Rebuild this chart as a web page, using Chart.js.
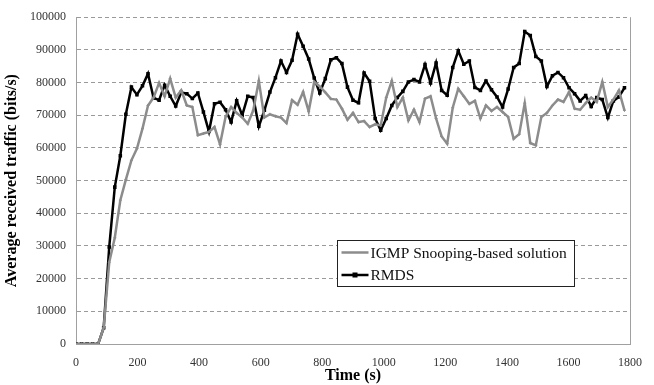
<!DOCTYPE html>
<html>
<head>
<meta charset="utf-8">
<script src="https://cdn.jsdelivr.net/npm/chart.js@4/dist/chart.umd.min.js"></script>
<style>
  html, body { margin: 0; padding: 0; background: #fff; }
  #wrap { width: 654px; height: 385px; }
</style>
</head>
<body>
<div id="wrap"><canvas id="myChart" width="654" height="385"></canvas></div>
<script>
"use strict";

// sample times (s)
const times = [
  0, 18, 36, 54, 72, 90, 108, 126, 144, 162,
  180, 198, 216, 234, 252, 270, 288, 306, 324, 342,
  360, 378, 396, 414, 432, 450, 468, 486, 504, 522,
  540, 558, 576, 594, 612, 630, 648, 666, 684, 702,
  720, 738, 756, 774, 792, 810, 828, 846, 864, 882,
  900, 918, 936, 954, 972, 990, 1008, 1026, 1044, 1062,
  1080, 1098, 1116, 1134, 1152, 1170, 1188, 1206, 1224, 1242,
  1260, 1278, 1296, 1314, 1332, 1350, 1368, 1386, 1404, 1422,
  1440, 1458, 1476, 1494, 1512, 1530, 1548, 1566, 1584, 1602,
  1620, 1638, 1656, 1674, 1692, 1710, 1728, 1746, 1764, 1782
];

// IGMP Snooping-based solution (bits/s)
const igmpValues = [
  0, 0, 0, 0, 0, 5000, 25000, 32500, 44000, 50300,
  56200, 59800, 65900, 73000, 75400, 79900, 75800, 81200, 75400, 77600,
  73000, 72500, 63900, 64400, 64900, 66400, 61100, 69500, 72500, 70700,
  69300, 67400, 71500, 80500, 69300, 70300, 69700, 69300, 67600, 74600,
  73200, 77100, 71200, 80200, 78800, 77000, 75000, 74800, 72000, 68600,
  70700, 67900, 68200, 66400, 67200, 66900, 75400, 80500, 72500, 75400,
  68400, 71700, 67900, 75100, 75800, 69000, 63500, 61300, 72300, 78100,
  75800, 73500, 74400, 69000, 73000, 71300, 72500, 71000, 69500, 62800,
  64200, 73700, 61500, 60800, 69500, 70700, 73000, 74800, 74100, 77100,
  72000, 71700, 73700, 75400, 74100, 80200, 72500, 74800, 77600, 71500
];

// RMDS (bits/s)
const rmdsValues = [
  0, 0, 0, 0, 0, 5000, 29700, 48000, 57600, 70300,
  78600, 76300, 79000, 82700, 75300, 74600, 79200, 75800, 72800, 77000,
  76600, 75100, 76800, 71000, 65000, 73500, 74000, 71700, 67900, 74400,
  70000, 75800, 75400, 66600, 71500, 77100, 81500, 86600, 83100, 86800,
  94800, 91100, 87200, 81400, 76800, 81200, 87000, 87600, 85800, 78600,
  74600, 73800, 82900, 80400, 69000, 65400, 69000, 73000, 75400, 77300,
  80200, 80900, 80200, 85500, 79900, 86000, 77600, 76100, 84600, 89700,
  85600, 86600, 78500, 77600, 80500, 77800, 75600, 72500, 78000, 84600,
  85800, 95600, 94400, 88000, 86600, 78800, 82100, 83100, 81500, 78400,
  76600, 74400, 76000, 72700, 75400, 74800, 69300, 74400, 75600, 78400
];

const seriesNames = ['IGMP Snooping-based solution', 'RMDS'];
const xTicks = { min: 0, max: 1800, step: 200 };
const yTicks = { min: 0, max: 100000, step: 10000 };

const SERIF = '"Liberation Serif", "Times New Roman", serif';
const GRAY = '#8c8c8c';

function toPoints(vals) {
  return vals.map((v, i) => ({ x: times[i], y: v }));
}

// legend box inside the plot + right border of plot area
const boxPlugin = {
  id: 'boxPlugin',
  afterDraw(chart) {
    const ctx = chart.ctx;
    const a = chart.chartArea;
    ctx.save();
    // right border
    ctx.strokeStyle = '#a0a0a0';
    ctx.lineWidth = 1;
    ctx.beginPath();
    ctx.moveTo(Math.round(a.right) + 0.5, a.top);
    ctx.lineTo(Math.round(a.right) + 0.5, a.bottom);
    ctx.stroke();

    // legend
    const lx = 337.5, ly = 240.5, lw = 237, lh = 46;
    ctx.fillStyle = '#fff';
    ctx.fillRect(lx, ly, lw, lh);
    ctx.strokeStyle = '#222';
    ctx.lineWidth = 1;
    ctx.strokeRect(lx, ly, lw, lh);
    ctx.font = '15.5px ' + SERIF;
    ctx.textBaseline = 'middle';
    chart.data.datasets.forEach((ds, i) => {
      const y = ly + 12 + i * 22.5;
      ctx.strokeStyle = ds.borderColor;
      ctx.lineWidth = ds.borderWidth;
      ctx.beginPath();
      ctx.moveTo(lx + 4, y);
      ctx.lineTo(lx + 31, y);
      ctx.stroke();
      ctx.fillStyle = ds.borderColor;
      if (i === 1) {
        ctx.fillRect(lx + 15, y - 2.5, 5, 5);
      }
      ctx.fillStyle = '#111';
      ctx.fillText(ds.label, lx + 33, y + 1);
    });
    ctx.restore();
  }
};

const config = {
  type: 'line',
  data: {
    datasets: [
      {
        label: seriesNames[0],
        data: toPoints(igmpValues),
        borderColor: GRAY,
        backgroundColor: GRAY,
        borderWidth: 2.5,
        pointStyle: 'cross',
        pointRadius: 1.5,
        pointBorderWidth: 1,
        tension: 0
      },
      {
        label: seriesNames[1],
        data: toPoints(rmdsValues),
        borderColor: '#000',
        backgroundColor: '#000',
        borderWidth: 2.5,
        pointStyle: 'rect',
        pointRadius: 2.5,
        pointBorderWidth: 0,
        tension: 0
      }
    ]
  },
  plugins: [boxPlugin],
  options: {
    responsive: false,
    animation: false,
    layout: { padding: { left: 0, right: 16, top: 17, bottom: 0 } },
    plugins: {
      legend: { display: false },
      tooltip: { enabled: false }
    },
    scales: {
      x: {
        type: 'linear',
        min: xTicks.min,
        max: xTicks.max,
        afterFit(scale) { scale.height = 41; },
        grid: { display: false, drawTicks: false },
        border: { color: '#a0a0a0', width: 1 },
        ticks: {
          stepSize: xTicks.step,
          padding: 12,
          color: '#333',
          font: { family: SERIF, size: 12 },
          callback: (v) => String(v)
        },
        title: {
          display: true,
          text: 'Time (s)',
          color: '#000',
          font: { family: SERIF, size: 16, weight: 'bold' },
          padding: { top: -4, bottom: 0 }
        }
      },
      y: {
        min: yTicks.min,
        max: yTicks.max,
        afterFit(scale) { scale.width = 76; },
        grid: {
          color: '#9a9a9a',
          drawTicks: false
        },
        border: { color: '#a0a0a0', width: 1, dash: [4, 3] },
        ticks: {
          stepSize: yTicks.step,
          padding: 10,
          color: '#333',
          font: { family: SERIF, size: 12 },
          callback: (v) => String(v)
        },
        title: {
          display: true,
          text: 'Average received traffic (bits/s)',
          color: '#000',
          font: { family: SERIF, size: 16, weight: 'bold' },
          padding: { top: 2, bottom: 0 }
        }
      }
    }
  }
};

const myChart = new Chart(document.getElementById('myChart'), config);
</script>
</body>
</html>
